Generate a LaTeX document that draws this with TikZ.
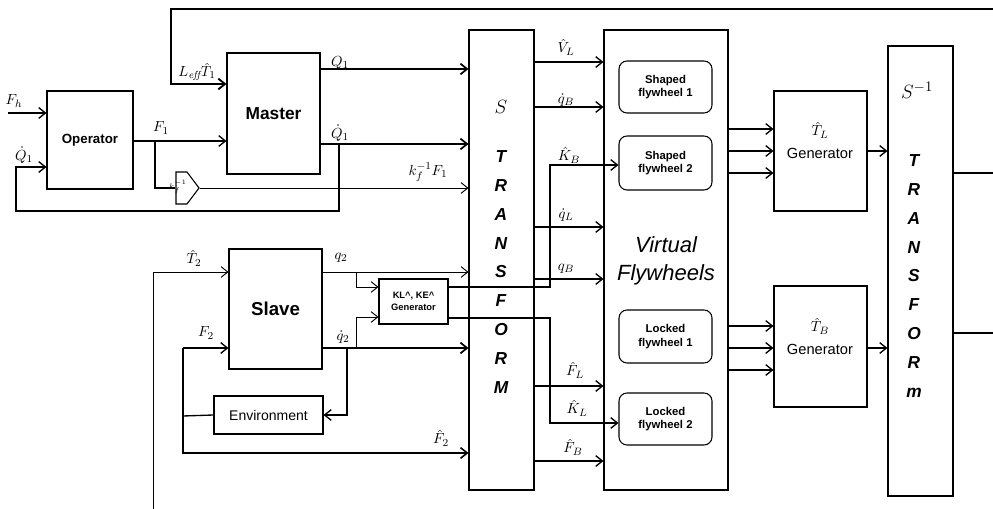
\documentclass[tikz,border=0pt]{standalone}
\usepackage{fontspec}
\setsansfont{Liberation Sans}
\usetikzlibrary{arrows.meta,shapes.symbols}
\begin{document}
\begin{tikzpicture}[x=0.75pt,y=-0.75pt,
  box/.style={draw, line width=0.8pt, inner sep=0pt},
  rbox/.style={box, rounded corners=6pt, align=center, font=\sffamily\bfseries\fontsize{8.5}{10}\selectfont},
  arr/.style={-{Straight Barb[length=5pt,width=8pt]}, line width=1pt},
  tarr/.style={arr, line width=0.7pt},
  ln/.style={line width=1pt},
  lbl/.style={inner sep=0pt, font=\fontsize{11}{13}\selectfont},
  gentxt/.style={inner sep=0pt, font=\sffamily\fontsize{11}{13}\selectfont},
  bigletters/.style={inner sep=0pt, align=center, font=\sffamily\bfseries\itshape\fontsize{13}{21.6}\selectfont},
]
\useasboundingbox (0,0) rectangle (993,509);

% ---------------- blocks ----------------
\node[box, minimum width=64.5pt, minimum height=73.5pt, font=\sffamily\bfseries\fontsize{10}{12}\selectfont] (op) at (90,140) {Operator};
\node[box, minimum width=69.75pt, minimum height=90.75pt, font=\sffamily\bfseries\fontsize{13}{15}\selectfont] (ma) at (273.5,113.5) {Master};
\node[box, minimum width=69.75pt, minimum height=90pt, font=\sffamily\bfseries\fontsize{14}{16}\selectfont] (sl) at (275.5,309) {Slave};
\node[box, minimum width=81.75pt, minimum height=28.5pt, font=\sffamily\fontsize{10.5}{12}\selectfont] (env) at (268.5,415) {Environment};
\node[box, minimum width=51.75pt, minimum height=33.75pt, align=center, font=\sffamily\bfseries\fontsize{7}{9}\selectfont] (kl) at (413.5,301.5) {KL\^{}, KE\^{}\\Generator};
\node[draw, line width=0.8pt, signal, signal to=east, signal pointer angle=106, minimum width=17.25pt, minimum height=24pt, inner sep=0pt] (kf) at (181.5,188) {};
\node[inner sep=0pt, font=\fontsize{5}{6}\selectfont] (kft) at (178,187) {$k_f^{-1}$};

\node[box, minimum width=48.75pt, minimum height=345pt] (st) at (501.5,260) {};
\node[box, minimum width=93pt, minimum height=345pt] (vf) at (666,260) {};
\node[rbox, minimum width=69.75pt, minimum height=39pt] (sf1) at (665.5,87) {Shaped\\flywheel 1};
\node[rbox, minimum width=69.75pt, minimum height=40.5pt] (sf2) at (665.5,163) {Shaped\\flywheel 2};
\node[rbox, minimum width=69.75pt, minimum height=39.75pt] (lf1) at (665.5,336.5) {Locked\\flywheel 1};
\node[rbox, minimum width=69.75pt, minimum height=39pt] (lf2) at (665.5,419) {Locked\\flywheel 2};
\node[box, minimum width=69.75pt, minimum height=90pt] (gl) at (820.5,151) {};
\node[box, minimum width=69.75pt, minimum height=90.75pt] (gb) at (820.5,346.5) {};
\node[box, minimum width=48.75pt, minimum height=337.5pt] (si) at (920.5,271) {};

% ---------------- texts inside big boxes ----------------
\node[inner sep=0pt, font=\fontsize{15}{17}\selectfont] (stS) at (501,107) {$S$};
\node[bigletters] (stT) at (501,272) {T\\R\\A\\N\\S\\F\\O\\R\\M};
\node[inner sep=0pt, align=center, font=\sffamily\itshape\fontsize{16.5}{21}\selectfont] (vft) at (666,261) {Virtual\\Flywheels};
\node[inner sep=0pt, font=\fontsize{15}{17}\selectfont] (siS) at (917,90) {$S^{-1}$};
\node[bigletters] (siT) at (914,276) {T\\R\\A\\N\\S\\F\\O\\R\\m};
\node[lbl] (glT) at (820,130) {$\hat T_L$};
\node[gentxt] (glG) at (820,153) {Generator};
\node[lbl] (gbT) at (820,326) {$\hat T_B$};
\node[gentxt] (gbG) at (820,349) {Generator};

% ---------------- free ends and bends ----------------
\coordinate (topR) at (993,9);
\coordinate (topL) at (171,9);
\coordinate (fh) at (8,113);
\coordinate (qdTap) at (339,144);
\coordinate (qdLeft) at (16,211);
\coordinate (fTap) at (155,141);
\coordinate (t2Low) at (153,509);
\coordinate (q2Tap) at (356,272);
\coordinate (qd2Tap) at (356,348);
\coordinate (envTap) at (347,348);
\coordinate (fbX) at (183,416);
\coordinate (fbTop) at (183,348);
\coordinate (klx) at (550,0);
\coordinate (outA) at (993,173);
\coordinate (outB) at (993,333);

% ---------------- operator / master ----------------
\draw[arr, line width=1.4pt] (topR) -- (topL) |- (ma.west |- 0,84);
\draw[arr] (fh) -- (op.west |- fh);
\draw[arr] (qdTap) |- (qdLeft) |- (op.west |- 0,167);
\draw[arr] (op.east |- fTap) -- (ma.west |- fTap);
\draw[ln] (fTap) |- (kf.west);
\draw[tarr] (kf.east) -- (st.west |- kf.east);
\draw[arr, line width=1.3pt] (ma.east |- 0,69) -- (st.west |- 0,69);
\draw[arr, line width=1.3pt] (ma.east |- qdTap) -- (st.west |- qdTap);

% ---------------- slave side ----------------
\draw[tarr] (t2Low) |- (sl.west |- q2Tap);
\draw[tarr] (sl.east |- q2Tap) -- (st.west |- q2Tap);
\draw[tarr] (q2Tap) |- (kl.west |- 0,287);
\draw[arr, line width=1.3pt] (sl.east |- qd2Tap) -- (st.west |- qd2Tap);
\draw[tarr] (qd2Tap) |- (kl.west |- 0,317);
\draw[arr] (envTap) |- (env.east);
\draw[ln] (env.west) -- (fbX);
\draw[arr] (fbTop) -- (sl.west |- fbTop);
\draw[arr, line width=1.2pt] (fbTop) |- (st.west |- 0,453);

% KL generator outputs
\draw[arr] (kl.east |- 0,287) -| (klx |- 0,165) -- (sf2.west |- 0,165);
\draw[arr] (kl.east |- 0,318) -| (klx |- 0,423) -- (lf2.west |- 0,423);

% ---------------- transform to flywheels ----------------
\draw[arr] (st.east |- 0,62) -- (vf.west |- 0,62);
\draw[arr] (st.east |- 0,107) -- (vf.west |- 0,107);
\draw[arr] (st.east |- 0,227) -- (vf.west |- 0,227);
\draw[arr] (st.east |- 0,279) -- (vf.west |- 0,279);
\draw[arr] (st.east |- 0,386) -- (vf.west |- 0,386);
\draw[arr] (st.east |- 0,461) -- (vf.west |- 0,461);

% flywheels to generators
\draw[arr] (vf.east |- 0,129) -- (gl.west |- 0,129);
\draw[arr] (vf.east |- 0,151) -- (gl.west |- 0,151);
\draw[arr] (vf.east |- 0,173) -- (gl.west |- 0,173);
\draw[arr] (vf.east |- 0,326) -- (gb.west |- 0,326);
\draw[arr] (vf.east |- 0,348) -- (gb.west |- 0,348);
\draw[arr] (vf.east |- 0,370) -- (gb.west |- 0,370);

% generators to inverse transform
\draw[arr] (gl.east) -- (si.west |- gl.east);
\draw[arr] (gb.east |- 0,348) -- (si.west |- 0,348);
\draw[ln] (si.east |- outA) -- (outA);
\draw[ln] (si.east |- outB) -- (outB);

% ---------------- signal labels ----------------
\node[lbl] (lFh) at (14,101) {$F_h$};
\node[lbl] (lQd1a) at (24,155) {$\dot Q_1$};
\node[lbl] (lF1) at (161,128) {$F_1$};
\node[lbl] (lLeff) at (197,72) {$L_{\mathit{eff}}\hat T_1$};
\node[lbl] (lQ1) at (340,63) {$Q_1$};
\node[lbl] (lQd1) at (340,133) {$\dot Q_1$};
\node[lbl] (lkF) at (428,172) {$k_f^{-1}F_1$};
\node[lbl] (lT2) at (194,258) {$\hat T_2$};
\node[lbl] (lF2) at (206,333) {$F_2$};
\node[lbl] (lq2) at (341,258) {$q_2$};
\node[lbl] (lqd2) at (343,337) {$\dot q_2$};
\node[lbl] (lF2h) at (441,438) {$\hat F_2$};
\node[lbl] (lVL) at (566,47) {$\hat V_L$};
\node[lbl] (lqdB) at (566,100) {$\dot q_B$};
\node[lbl] (lKB) at (569,155) {$\hat K_B$};
\node[lbl] (lqdL) at (566,215) {$\dot q_L$};
\node[lbl] (lqB) at (566,269) {$q_B$};
\node[lbl] (lFL) at (575,370) {$\hat F_L$};
\node[lbl] (lKL) at (577,408) {$\hat K_L$};
\node[lbl] (lFB) at (573,447) {$\hat F_B$};
\end{tikzpicture}
\end{document}
